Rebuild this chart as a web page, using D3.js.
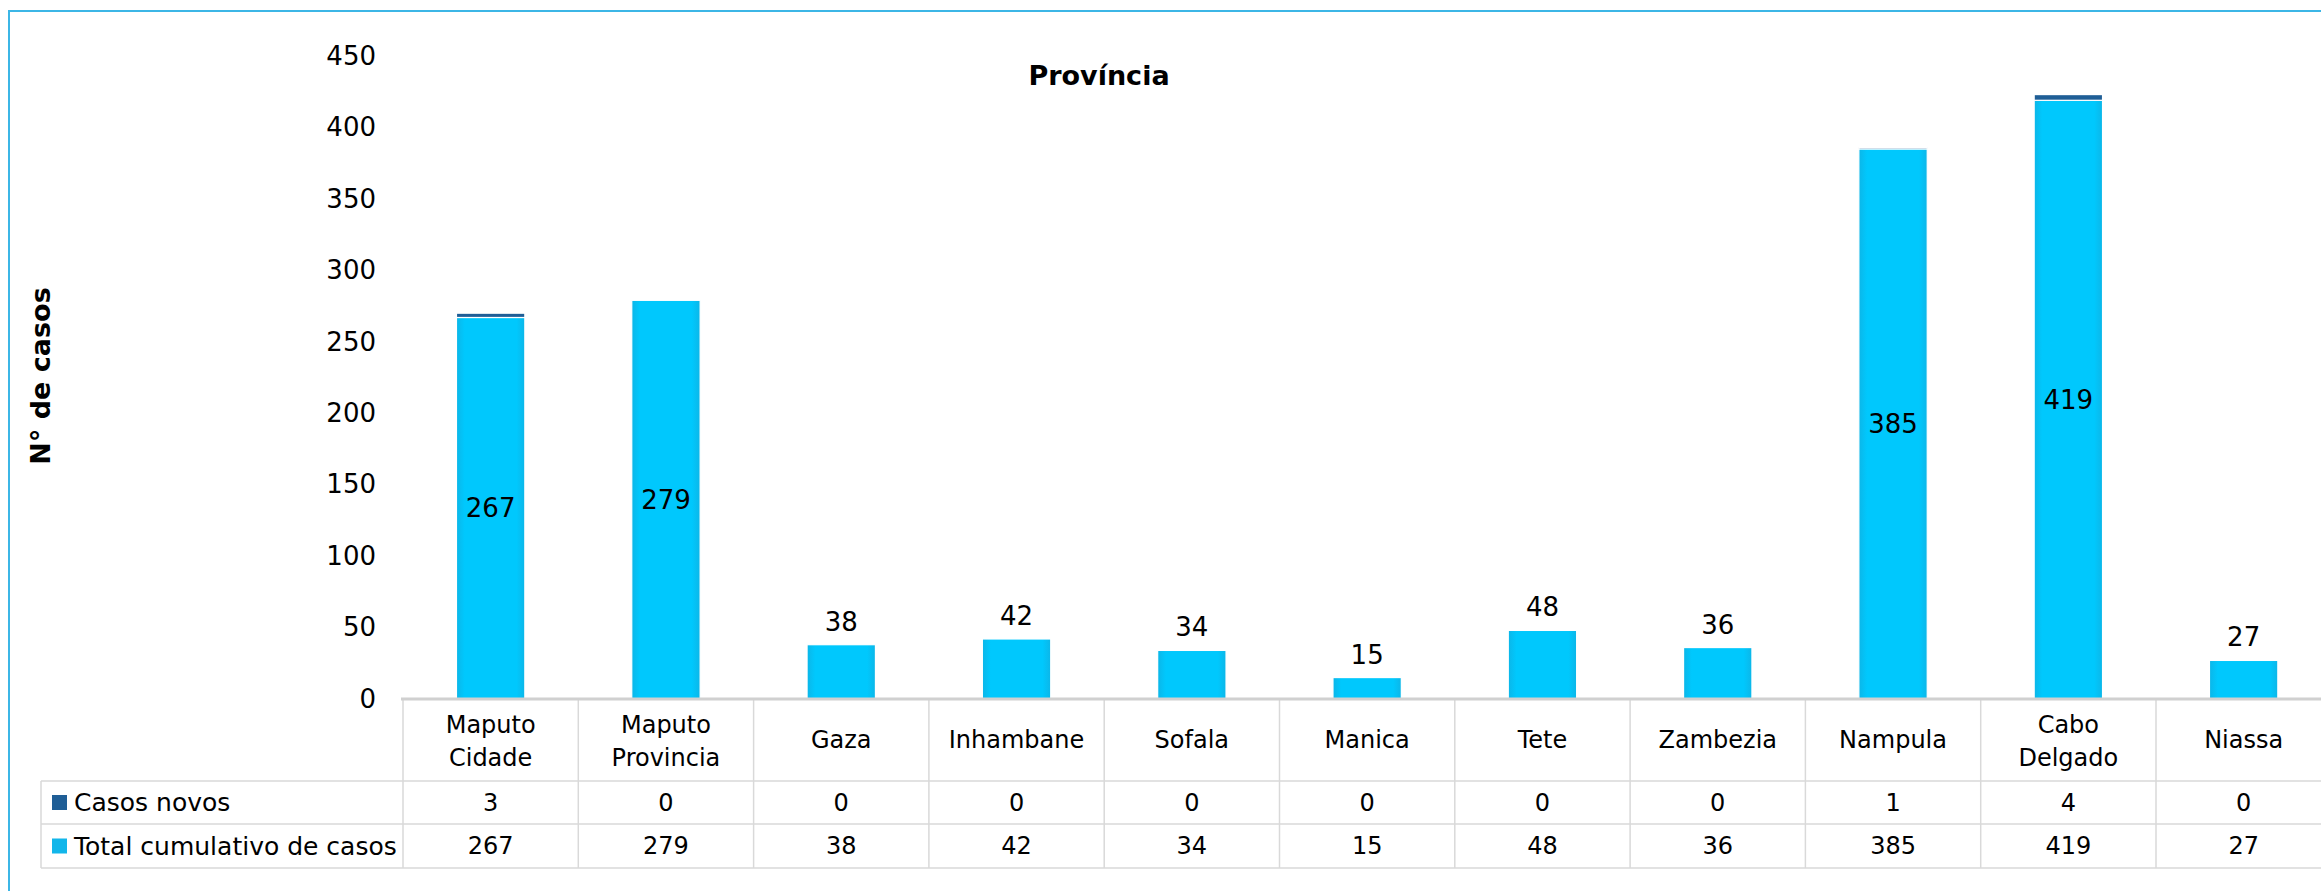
<!DOCTYPE html>
<html>
<head>
<meta charset="utf-8">
<script src="https://cdn.jsdelivr.net/npm/d3@7"></script>
<style>
  body { margin: 0; background: #fff; }
  svg { display: block; font-family: "DejaVu Sans", sans-serif; }
</style>
</head>
<body>
<svg width="2321" height="891"></svg>
<script>
const provincias = ["Maputo Cidade", "Maputo Provincia", "Gaza", "Inhambane", "Sofala", "Manica", "Tete", "Zambezia", "Nampula", "Cabo Delgado", "Niassa"];
const casosNovos = [3, 0, 0, 0, 0, 0, 0, 0, 1, 4, 0];
const totalCasos = [267, 279, 38, 42, 34, 15, 48, 36, 385, 419, 27];
const yTicks = [0, 50, 100, 150, 200, 250, 300, 350, 400, 450];
const series = ["Casos novos", "Total cumulativo de casos"];

const svg = d3.select("svg");
const corNovos = "#1f5e96", corTotal = "#08c4f6";

// gradient for the light bars
const grad = svg.append("defs").append("linearGradient").attr("id", "gb")
  .attr("x1", "0").attr("x2", "1").attr("y1", "0").attr("y2", "0");
grad.append("stop").attr("offset", "0").attr("stop-color", "#0cb6e8");
grad.append("stop").attr("offset", "0.12").attr("stop-color", "#00c8fd");
grad.append("stop").attr("offset", "0.88").attr("stop-color", "#00c8fd");
grad.append("stop").attr("offset", "1").attr("stop-color", "#0cb6e8");

// outer frame (runs off the right and bottom edges)
svg.append("rect").attr("x", 9).attr("y", 11).attr("width", 2500).attr("height", 1000)
  .attr("fill", "none").attr("stroke", "#3cb6e6").attr("stroke-width", 2);

const x0 = 403, colW = 175.3;
const xc = d3.scaleBand().domain(provincias).range([x0, x0 + colW * provincias.length]).padding(0);
const xb = d3.scaleBand().domain(provincias).range([x0, x0 + colW * provincias.length])
  .paddingInner(0.61).paddingOuter(0.305);
const y = d3.scaleLinear().domain([0, 450]).range([699, 56]);

// y axis
const ax = svg.append("g").attr("transform", "translate(378,0)")
  .call(d3.axisLeft(y).tickValues(yTicks).tickSize(0).tickPadding(2));
ax.select(".domain").remove();
ax.selectAll("text").attr("font-size", 26).attr("fill", "#000").attr("font-family", "DejaVu Sans");

// stacked bars
const rows = provincias.map((p, i) => ({ p: p, total: totalCasos[i], novos: casosNovos[i] }));
const stacked = d3.stack().keys(["total", "novos"])(rows);

svg.append("g").selectAll("g").data(stacked).join("g")
  .attr("fill", d => d.key === "total" ? "url(#gb)" : corNovos)
  .selectAll("rect").data(d => d).join("rect")
  .attr("x", d => xb(d.data.p))
  .attr("width", xb.bandwidth())
  .attr("y", d => y(d[1]))
  .attr("height", d => y(d[0]) - y(d[1]))
  .attr("stroke", "#fff").attr("stroke-width", 1.2);

// value labels
svg.append("g").selectAll("text").data(rows).join("text")
  .attr("x", d => xb(d.p) + xb.bandwidth() / 2)
  .attr("y", d => d.total > 100 ? (y(d.total) + y(0)) / 2 : y(d.total) - 23)
  .attr("text-anchor", "middle").attr("dominant-baseline", "central")
  .attr("font-size", 26).text(d => d.total);

// title and y axis label
svg.append("text").attr("x", 1099).attr("y", 85).attr("text-anchor", "middle")
  .attr("font-size", 27).attr("font-weight", "bold").text("Província");
svg.append("text").attr("transform", "translate(50,376) rotate(-90)")
  .attr("text-anchor", "middle").attr("font-size", 27).attr("font-weight", "bold").text("N° de casos");

// data table
const tb = svg.append("g");
const rowY = [699, 781, 824, 868];
const xEnd = 2400;
const line = (x1, y1, x2, y2, w, c) => tb.append("line").attr("x1", x1).attr("y1", y1).attr("x2", x2).attr("y2", y2)
  .attr("stroke", c || "#d9d9d9").attr("stroke-width", w || 1.5);

line(x0, rowY[1], 41, rowY[1]);
line(41, rowY[1], 41, rowY[3]);
line(41, rowY[2], x0, rowY[2]);
line(41, rowY[3], x0, rowY[3]);
line(x0, rowY[1], xEnd, rowY[1]);
line(x0, rowY[2], xEnd, rowY[2]);
line(x0, rowY[3], xEnd, rowY[3]);
provincias.forEach(p => line(xc(p), rowY[0], xc(p), rowY[3]));
line(x0 - 2, rowY[0], xEnd, rowY[0], 3, "#d0d0d0");

// category labels
tb.selectAll("text.cat").data(provincias).join("text").attr("class", "cat")
  .attr("text-anchor", "middle").attr("font-size", 24)
  .each(function (p) {
    const parts = p.split(" ");
    const cx = xc(p) + colW / 2;
    const t = d3.select(this);
    parts.forEach((s, k) => {
      t.append("tspan").attr("x", cx)
        .attr("y", parts.length === 1 ? 740 : 725 + k * 33)
        .attr("dominant-baseline", "central").text(s);
    });
  });

// series rows
[casosNovos, totalCasos].forEach((vals, r) => {
  const cy = (rowY[r + 1] + rowY[r + 2]) / 2;
  tb.append("g").selectAll("text").data(vals).join("text")
    .attr("x", (v, i) => xc(provincias[i]) + colW / 2)
    .attr("y", cy).attr("text-anchor", "middle").attr("dominant-baseline", "central")
    .attr("font-size", 24).text(v => v);
  tb.append("rect").attr("x", 52).attr("y", cy - 7.5).attr("width", 15).attr("height", 15)
    .attr("fill", r === 0 ? corNovos : "#12b6ea");
  tb.append("text").attr("x", 74).attr("y", cy).attr("dominant-baseline", "central")
    .attr("font-size", 25).text(series[r]);
});
</script>
</body>
</html>
